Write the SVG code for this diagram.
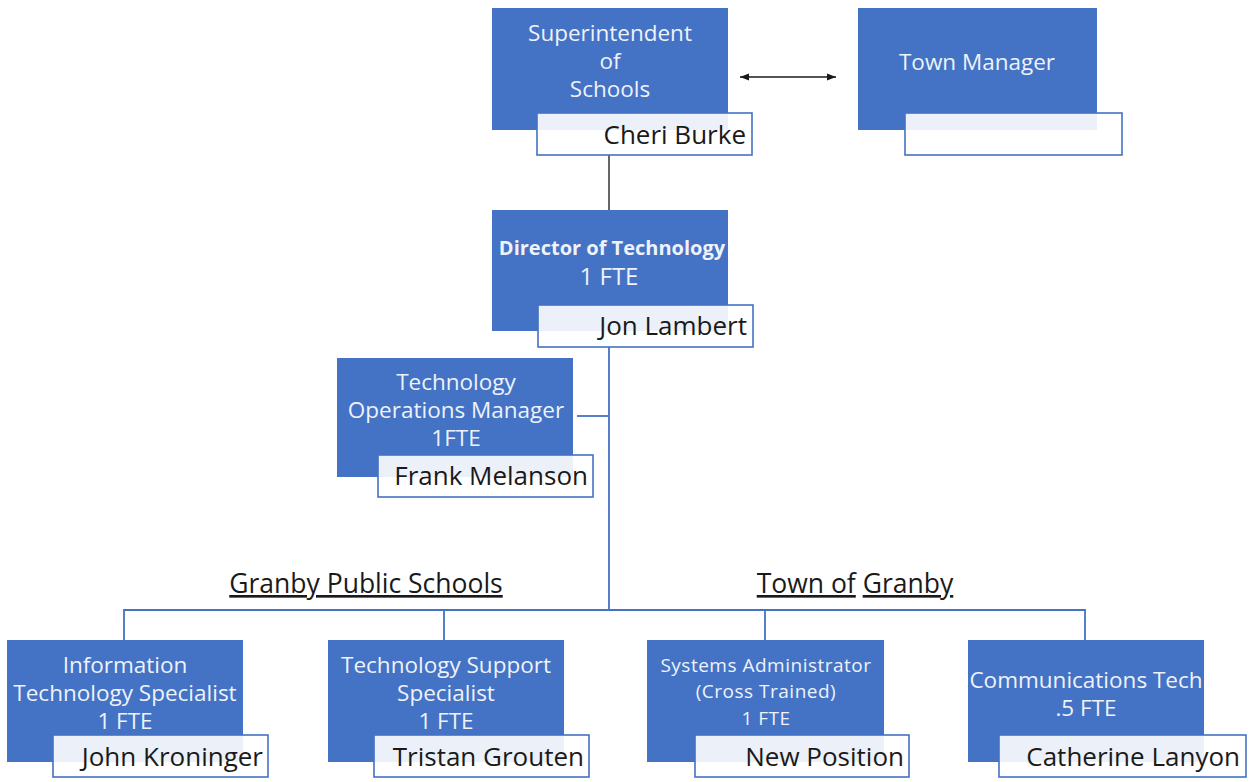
<svg xmlns="http://www.w3.org/2000/svg" width="1249" height="782" viewBox="0 0 1249 782">
<style>
.box{fill:#4472c4;}
.nm{fill:#ffffff;fill-opacity:0.9;stroke:#4472c4;stroke-width:1.6;}
.t{font-family:"Open Sans","Noto Sans",sans-serif;font-size:22.5px;fill:#eef2fa;text-anchor:middle;}
.tb{font-weight:bold;font-size:20px;}
.ts{font-size:19px;letter-spacing:0.5px;}
.n{font-family:"Open Sans","Noto Sans",sans-serif;font-size:26px;fill:#1a1a1a;text-anchor:end;}
.h{font-family:"Open Sans","Noto Sans",sans-serif;font-size:26.5px;fill:#1a1a1a;text-anchor:middle;}
.c{stroke:#4472c4;stroke-width:1.8;fill:none;}
</style>
<defs>
<marker id="ah" viewBox="0 0 10 10" refX="10" refY="5" markerWidth="7" markerHeight="7" orient="auto-start-reverse">
<path d="M0,1 L10,5 L0,9 z" fill="#1a1a1a"/>
</marker>
</defs>
<g id="connectors">
<line x1="740" y1="77" x2="836" y2="77" stroke="#1a1a1a" stroke-width="1.3" marker-start="url(#ah)" marker-end="url(#ah)"/>
<line x1="609" y1="155" x2="609" y2="210" stroke="#333" stroke-width="1.5"/>
<line class="c" x1="609" y1="347" x2="609" y2="610"/>
<line class="c" x1="577" y1="416" x2="609" y2="416"/>
<polyline class="c" points="124,640 124,610 1085,610 1085,640"/>
<line class="c" x1="444" y1="610" x2="444" y2="640"/>
<line class="c" x1="765" y1="610" x2="765" y2="640"/>
</g>
<g id="superintendent">
<rect class="box" x="492" y="8" width="236" height="122"/>
<text class="t" x="610" y="41">Superintendent</text>
<text class="t" x="610" y="69">of</text>
<text class="t" x="610" y="97">Schools</text>
<rect class="nm" x="537" y="113" width="215" height="42"/>
<text class="n" x="746" y="144">Cheri Burke</text>
</g>
<g id="town-manager">
<rect class="box" x="858" y="8" width="239" height="122"/>
<text class="t" x="977" y="70">Town Manager</text>
<rect class="nm" x="905" y="113" width="217" height="42"/>
</g>
<g id="director">
<rect class="box" x="492" y="210" width="236" height="121"/>
<text class="t tb" x="612" y="255">Director of Technology</text>
<text class="t" x="609" y="285" style="font-size:24px">1 FTE</text>
<rect class="nm" x="538" y="305" width="215" height="42"/>
<text class="n" x="747" y="335">Jon Lambert</text>
</g>
<g id="tech-ops-manager">
<rect class="box" x="337" y="358" width="236" height="119"/>
<text class="t" x="456" y="390">Technology</text>
<text class="t" x="456" y="418">Operations Manager</text>
<text class="t" x="456" y="446">1FTE</text>
<rect class="nm" x="378" y="455" width="215" height="42"/>
<text class="n" x="588" y="485">Frank Melanson</text>
</g>
<g id="headings">
<text class="h" x="366" y="593" text-decoration="underline">Granby Public Schools</text>
<text class="h" x="855" y="593"><tspan text-decoration="underline">Town of</tspan> <tspan text-decoration="underline">Granby</tspan></text>
</g>
<g id="it-specialist">
<rect class="box" x="7" y="640" width="236" height="122"/>
<text class="t" x="125" y="673">Information</text>
<text class="t" x="125" y="701">Technology Specialist</text>
<text class="t" x="125" y="729">1 FTE</text>
<rect class="nm" x="53" y="735" width="215" height="42"/>
<text class="n" x="263" y="766">John Kroninger</text>
</g>
<g id="tech-support">
<rect class="box" x="328" y="640" width="236" height="122"/>
<text class="t" x="446" y="673">Technology Support</text>
<text class="t" x="446" y="701">Specialist</text>
<text class="t" x="446" y="729">1 FTE</text>
<rect class="nm" x="374" y="735" width="215" height="42"/>
<text class="n" x="584" y="766">Tristan Grouten</text>
</g>
<g id="sysadmin">
<rect class="box" x="647" y="640" width="237" height="122"/>
<text class="t ts" x="766" y="672">Systems Administrator</text>
<text class="t ts" x="766" y="698">(Cross Trained)</text>
<text class="t ts" x="766" y="725">1 FTE</text>
<rect class="nm" x="695" y="735" width="214" height="42"/>
<text class="n" x="904" y="766">New Position</text>
</g>
<g id="comm-tech">
<rect class="box" x="968" y="640" width="236" height="122"/>
<text class="t" x="1086" y="688">Communications Tech</text>
<text class="t" x="1086" y="716">.5 FTE</text>
<rect class="nm" x="999" y="735" width="247" height="42"/>
<text class="n" x="1240" y="766">Catherine Lanyon</text>
</g>
</svg>
